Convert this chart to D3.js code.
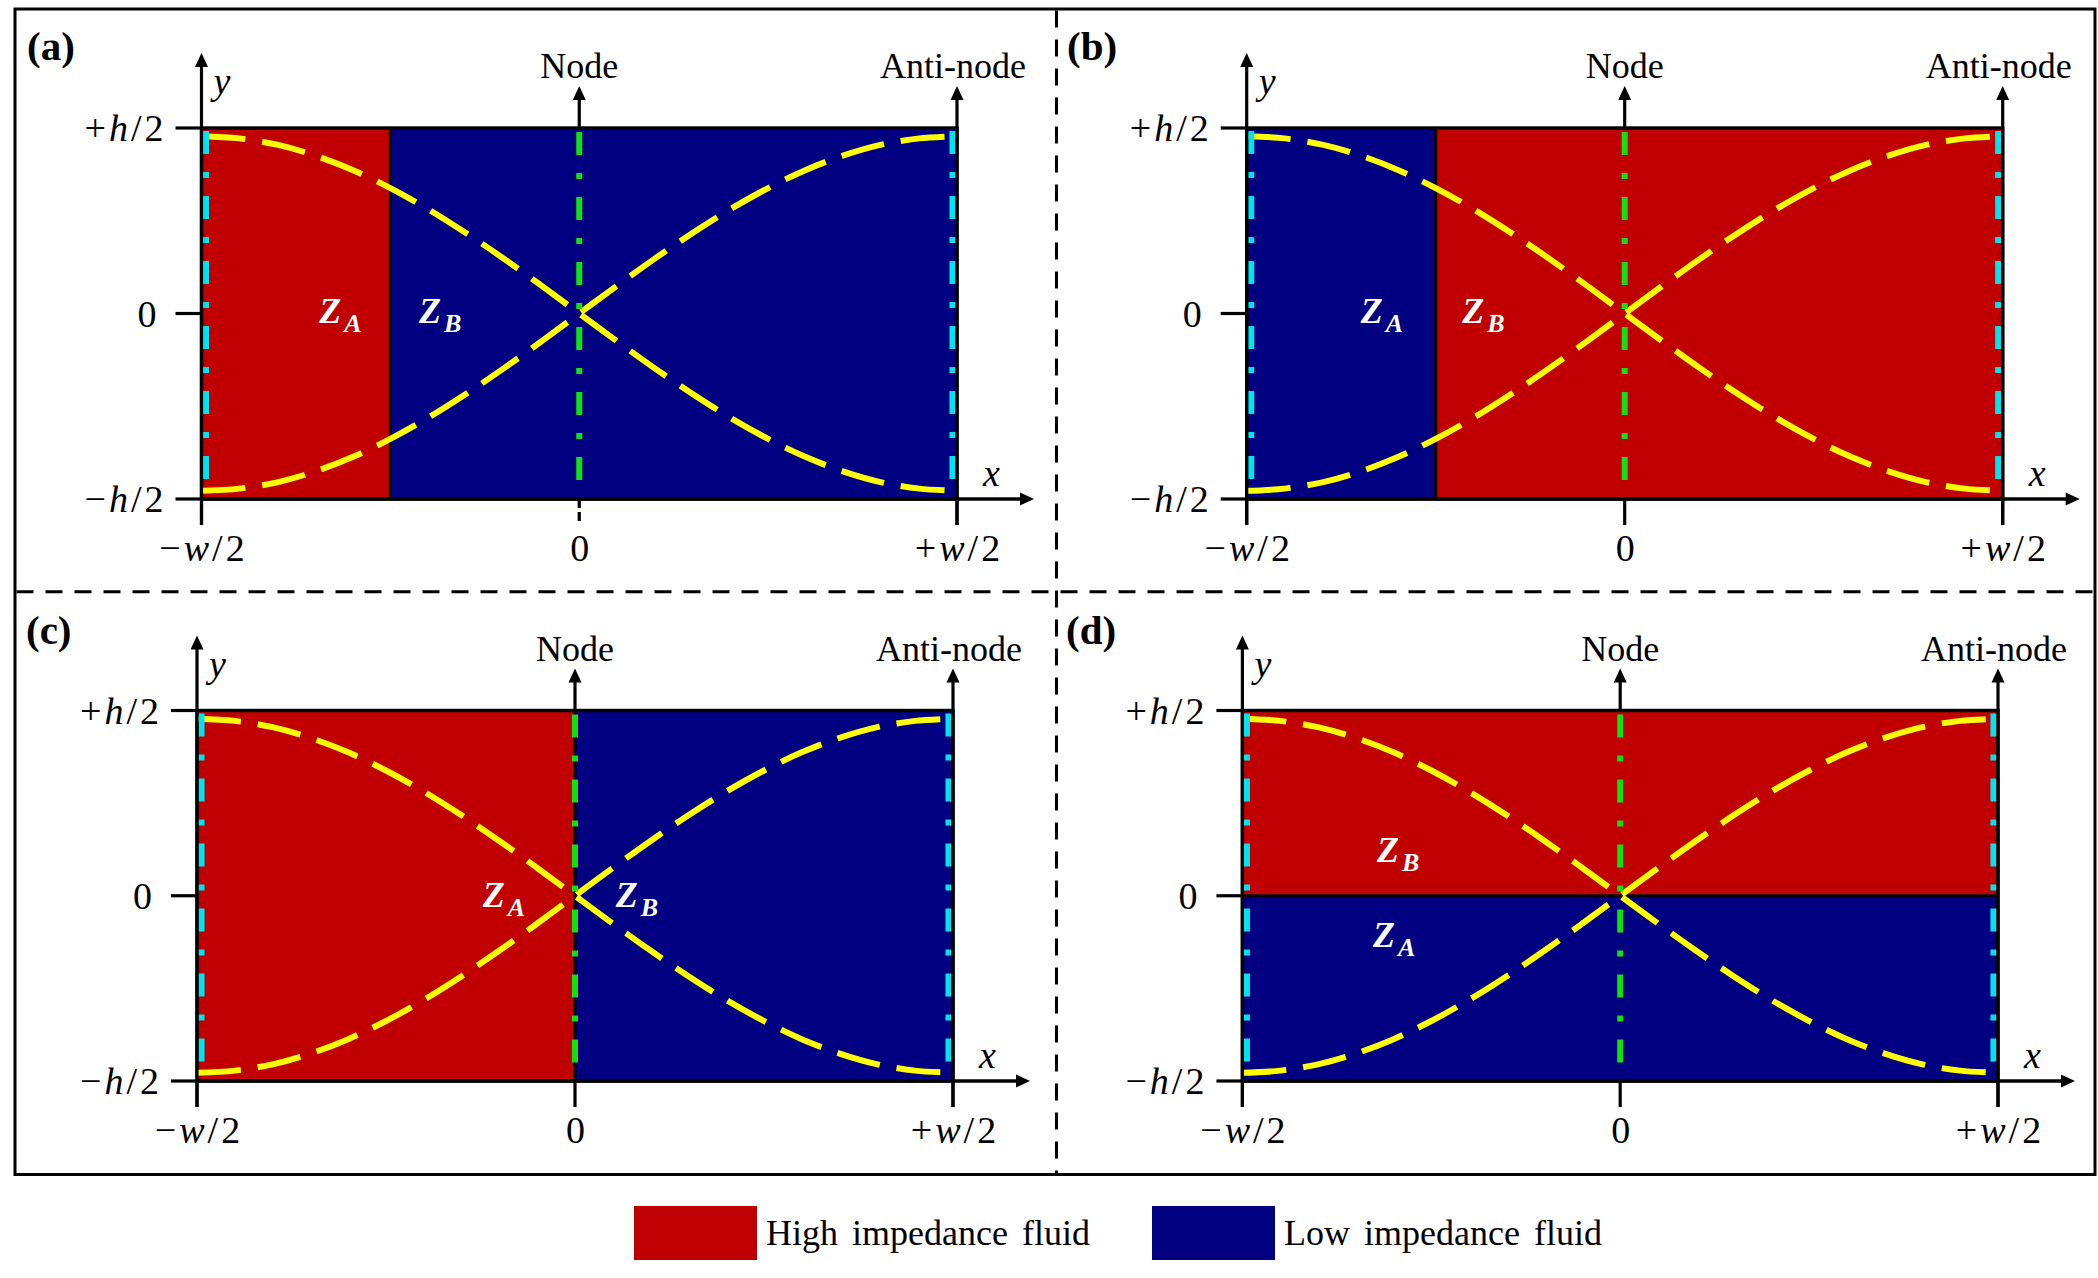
<!DOCTYPE html>
<html>
<head>
<meta charset="utf-8">
<script src="https://cdn.jsdelivr.net/npm/d3@7"></script>
<style>
  html, body { margin: 0; padding: 0; background: #ffffff; }
  svg { display: block; }
</style>
</head>
<body>
<svg id="chart" width="2098" height="1278"></svg>
<script>
// ---------------- DATA ----------------
const panelNames = ["(a)", "(b)", "(c)", "(d)"];
const xTickValues = [-0.5, 0, 0.5];
const xTickLabels = ["\u2212w/2", "0", "+w/2"];
const yTickValues = [0.5, 0, -0.5];
const yTickLabels = ["+h/2", "0", "\u2212h/2"];
const legendNames = ["High impedance fluid", "Low impedance fluid"];
const fluidKeys = ["high", "low"];

// mode-shape curves (x in units of w, y in units of h)
const curveX    = [-0.5, -0.45, -0.4, -0.35, -0.3, -0.25, -0.2, -0.15, -0.1, -0.05, 0, 0.05, 0.1, 0.15, 0.2, 0.25, 0.3, 0.35, 0.4, 0.45, 0.5];
const curveRise = [-0.478, -0.472, -0.455, -0.426, -0.387, -0.338, -0.281, -0.217, -0.148, -0.075, 0, 0.075, 0.148, 0.217, 0.281, 0.338, 0.387, 0.426, 0.455, 0.472, 0.478];
const curveFall = [0.478, 0.472, 0.455, 0.426, 0.387, 0.338, 0.281, 0.217, 0.148, 0.075, 0, -0.075, -0.148, -0.217, -0.281, -0.338, -0.387, -0.426, -0.455, -0.472, -0.478];

// fluid regions per panel: [x0, x1, y0, y1, fluid]
const regionsA = [[-0.5, -0.25, -0.5, 0.5, "high"], [-0.25, 0.5, -0.5, 0.5, "low"]];
const regionsB = [[-0.5, -0.25, -0.5, 0.5, "low"], [-0.25, 0.5, -0.5, 0.5, "high"]];
const regionsC = [[-0.5, 0, -0.5, 0.5, "high"], [0, 0.5, -0.5, 0.5, "low"]];
const regionsD = [[-0.5, 0.5, 0, 0.5, "high"], [-0.5, 0.5, -0.5, 0, "low"]];
// interfaces: [x0, y0, x1, y1]
const interfacesA = [[-0.25, -0.5, -0.25, 0.5]];
const interfacesB = [[-0.25, -0.5, -0.25, 0.5]];
const interfacesC = [[0, -0.5, 0, 0.5]];
const interfacesD = [[-0.5, 0, 0.5, 0]];
// impedance labels: [sub, x, y]
const zLabelsA = [["A", -0.344, -0.026], ["B", -0.212, -0.026]];
const zLabelsB = [["A", -0.349, -0.026], ["B", -0.215, -0.026]];
const zLabelsC = [["A", -0.122, -0.030], ["B", 0.054, -0.030]];
const zLabelsD = [["B", -0.322, 0.091], ["A", -0.327, -0.138]];
const nodeLabels = ["Node", "Anti-node"];
const nodeValues = [0, 0.5];
const edgeLineValues = [-0.494, 0.494];

// ---------------- STYLE / LAYOUT ----------------
const colors = { high: "#c00000", low: "#000080" };
const YELLOW = "#ffff00", CYAN = "#00e4f0", GREEN = "#11e011";
const SERIF = "'Liberation Serif', 'Times New Roman', serif";

const layout = [
  { x0: 201.5, x1: 957,    y0: 128,   y1: 499,  lx: 27,   ly: 60,  dashedZeroTick: true },
  { x0: 1246.7, x1: 2002.7, y0: 128,   y1: 499,  lx: 1067, ly: 60,  dashedZeroTick: false },
  { x0: 197,   x1: 953,    y0: 710.5, y1: 1081, lx: 26,   ly: 644, dashedZeroTick: false },
  { x0: 1242.4, x1: 1998,  y0: 710.5, y1: 1081, lx: 1066, ly: 644, dashedZeroTick: false }
];
const regionSets = [regionsA, regionsB, regionsC, regionsD];
const interfaceSets = [interfacesA, interfacesB, interfacesC, interfacesD];
const zLabelSets = [zLabelsA, zLabelsB, zLabelsC, zLabelsD];

const svg = d3.select("#chart");
svg.append("rect").attr("width", 2098).attr("height", 1278).attr("fill", "#fff");

// outer frame and dividers
svg.append("rect").attr("x", 15).attr("y", 9).attr("width", 2080).attr("height", 1165.5)
  .attr("fill", "none").attr("stroke", "#000").attr("stroke-width", 3);
svg.append("line").attr("x1", 1056.5).attr("x2", 1056.5).attr("y1", 10.5).attr("y2", 1173)
  .attr("stroke", "#000").attr("stroke-width", 3).attr("stroke-dasharray", "17,12");
svg.append("line").attr("x1", 16.5).attr("x2", 2093.5).attr("y1", 591.7).attr("y2", 591.7)
  .attr("stroke", "#000").attr("stroke-width", 3).attr("stroke-dasharray", "17,12");

function mathText(sel, str, size) {
  // upright digits/operators, italic variables
  for (const ch of str) {
    sel.append("tspan")
      .attr("font-style", /[a-z]/.test(ch) ? "italic" : "normal")
      .text(ch);
  }
  sel.attr("font-family", SERIF).attr("font-size", size).attr("letter-spacing", 3);
}

function upArrow(g, x, yBase, yTip) {
  g.append("line").attr("x1", x).attr("x2", x).attr("y1", yBase).attr("y2", yTip + 10)
    .attr("stroke", "#000").attr("stroke-width", 3.2);
  g.append("path").attr("d", `M${x},${yTip} L${x - 6.5},${yTip + 14} L${x + 6.5},${yTip + 14} Z`).attr("fill", "#000");
}

const curveData = [curveRise, curveFall].map(ys => curveX.map((x, i) => [x, ys[i]]));

layout.forEach((L, p) => {
  const g = svg.append("g");
  const xs = d3.scaleLinear().domain([-0.5, 0.5]).range([L.x0, L.x1]);
  const ys = d3.scaleLinear().domain([-0.5, 0.5]).range([L.y1, L.y0]);

  // fluid regions
  g.selectAll("rect.region").data(regionSets[p]).join("rect")
    .attr("x", d => xs(d[0])).attr("width", d => xs(d[1]) - xs(d[0]))
    .attr("y", d => ys(d[3])).attr("height", d => ys(d[2]) - ys(d[3]))
    .attr("fill", d => colors[d[4]]);

  // interfaces
  g.selectAll("line.iface").data(interfaceSets[p]).join("line")
    .attr("x1", d => xs(d[0])).attr("y1", d => ys(d[1]))
    .attr("x2", d => xs(d[2])).attr("y2", d => ys(d[3]))
    .attr("stroke", "#000").attr("stroke-width", 3);

  // border
  g.append("rect").attr("x", L.x0).attr("y", L.y0)
    .attr("width", L.x1 - L.x0).attr("height", L.y1 - L.y0)
    .attr("fill", "none").attr("stroke", "#000").attr("stroke-width", 3.4);

  // mode shapes
  const line = d3.line().x(d => xs(d[0])).y(d => ys(d[1])).curve(d3.curveCatmullRom);
  g.selectAll("path.mode").data(curveData).join("path")
    .attr("d", line).attr("fill", "none").attr("stroke", YELLOW)
    .attr("stroke-width", 6).attr("stroke-dasharray", "44,17");

  // cyan edge lines
  g.selectAll("line.edge").data(edgeLineValues).join("line")
    .attr("x1", d => xs(d)).attr("x2", d => xs(d))
    .attr("y1", ys(0.5) + 3).attr("y2", ys(-0.5) - 2)
    .attr("stroke", CYAN).attr("stroke-width", 6).attr("stroke-dasharray", "23,18,6,18");

  // green node line
  g.append("line").attr("x1", xs(0)).attr("x2", xs(0))
    .attr("y1", ys(0.5) + 4).attr("y2", ys(-0.5) - 2)
    .attr("stroke", GREEN).attr("stroke-width", 6).attr("stroke-dasharray", "23,18,6,18");

  // y axis
  upArrow(g, xs(-0.5), ys(-0.5) + 26, ys(0.5) - 75);
  // x axis
  const xb = ys(-0.5), xTip = xs(0.5) + 77;
  g.append("line").attr("x1", xs(-0.5)).attr("x2", xTip - 10).attr("y1", xb).attr("y2", xb)
    .attr("stroke", "#000").attr("stroke-width", 3.4);
  g.append("path").attr("d", `M${xTip},${xb} L${xTip - 14},${xb - 6.5} L${xTip - 14},${xb + 6.5} Z`).attr("fill", "#000");

  // node / anti-node arrows
  nodeValues.forEach((v, i) => {
    upArrow(g, xs(v), v === 0.5 ? ys(-0.5) + 26 : ys(0.5), ys(0.5) - 42);
    g.append("text").attr("x", xs(v) - (i === 1 ? 4 : 0)).attr("y", ys(0.5) - 50)
      .attr("text-anchor", "middle").attr("font-family", SERIF).attr("font-size", 36)
      .text(nodeLabels[i]);
  });

  // x ticks
  xTickValues.forEach((v, i) => {
    const t = g.append("line").attr("x1", xs(v)).attr("x2", xs(v))
      .attr("y1", xb).attr("y2", xb + 26).attr("stroke", "#000").attr("stroke-width", 3.2);
    if (v === 0 && L.dashedZeroTick) t.attr("stroke-dasharray", "9,4");
    const tx = g.append("text").attr("x", xs(v) + 2).attr("y", xb + 62).attr("text-anchor", "middle");
    mathText(tx, xTickLabels[i], 38);
  });
  // y ticks
  yTickValues.forEach((v, i) => {
    g.append("line").attr("x1", xs(-0.5) - 26).attr("x2", xs(-0.5))
      .attr("y1", ys(v)).attr("y2", ys(v)).attr("stroke", "#000").attr("stroke-width", 3.2);
    const tx = g.append("text").attr("x", xs(-0.5) - (yTickLabels[i] === "0" ? 42 : 35))
      .attr("y", ys(v) + 13).attr("text-anchor", "end");
    mathText(tx, yTickLabels[i], 38);
  });

  // axis names
  g.append("text").attr("x", xs(-0.5) + 12).attr("y", ys(0.5) - 34)
    .attr("font-family", SERIF).attr("font-style", "italic").attr("font-size", 38).text("y");
  g.append("text").attr("x", xs(0.5) + 26).attr("y", ys(-0.5) - 13)
    .attr("font-family", SERIF).attr("font-style", "italic").attr("font-size", 38).text("x");

  // impedance labels
  zLabelSets[p].forEach(([sub, x, y]) => {
    const t = g.append("text").attr("x", xs(x)).attr("y", ys(y))
      .attr("font-family", SERIF).attr("font-weight", "bold").attr("font-style", "italic")
      .attr("fill", "#fff").attr("font-size", 36);
    t.append("tspan").text("Z");
    t.append("tspan").attr("font-size", 26).attr("dx", 3).attr("dy", 9).text(sub);
  });

  // panel label
  svg.append("text").attr("x", L.lx).attr("y", L.ly)
    .attr("font-family", SERIF).attr("font-weight", "bold").attr("font-size", 41)
    .text(panelNames[p]);
});

// legend
const legendX = [634, 1152];
fluidKeys.forEach((k, i) => {
  svg.append("rect").attr("x", legendX[i]).attr("y", 1206).attr("width", 123).attr("height", 54)
    .attr("fill", colors[k]);
  svg.append("text").attr("x", legendX[i] + 132).attr("y", 1245)
    .attr("font-family", SERIF).attr("font-size", 36).attr("word-spacing", 5)
    .text(legendNames[i]);
});
</script>
</body>
</html>
